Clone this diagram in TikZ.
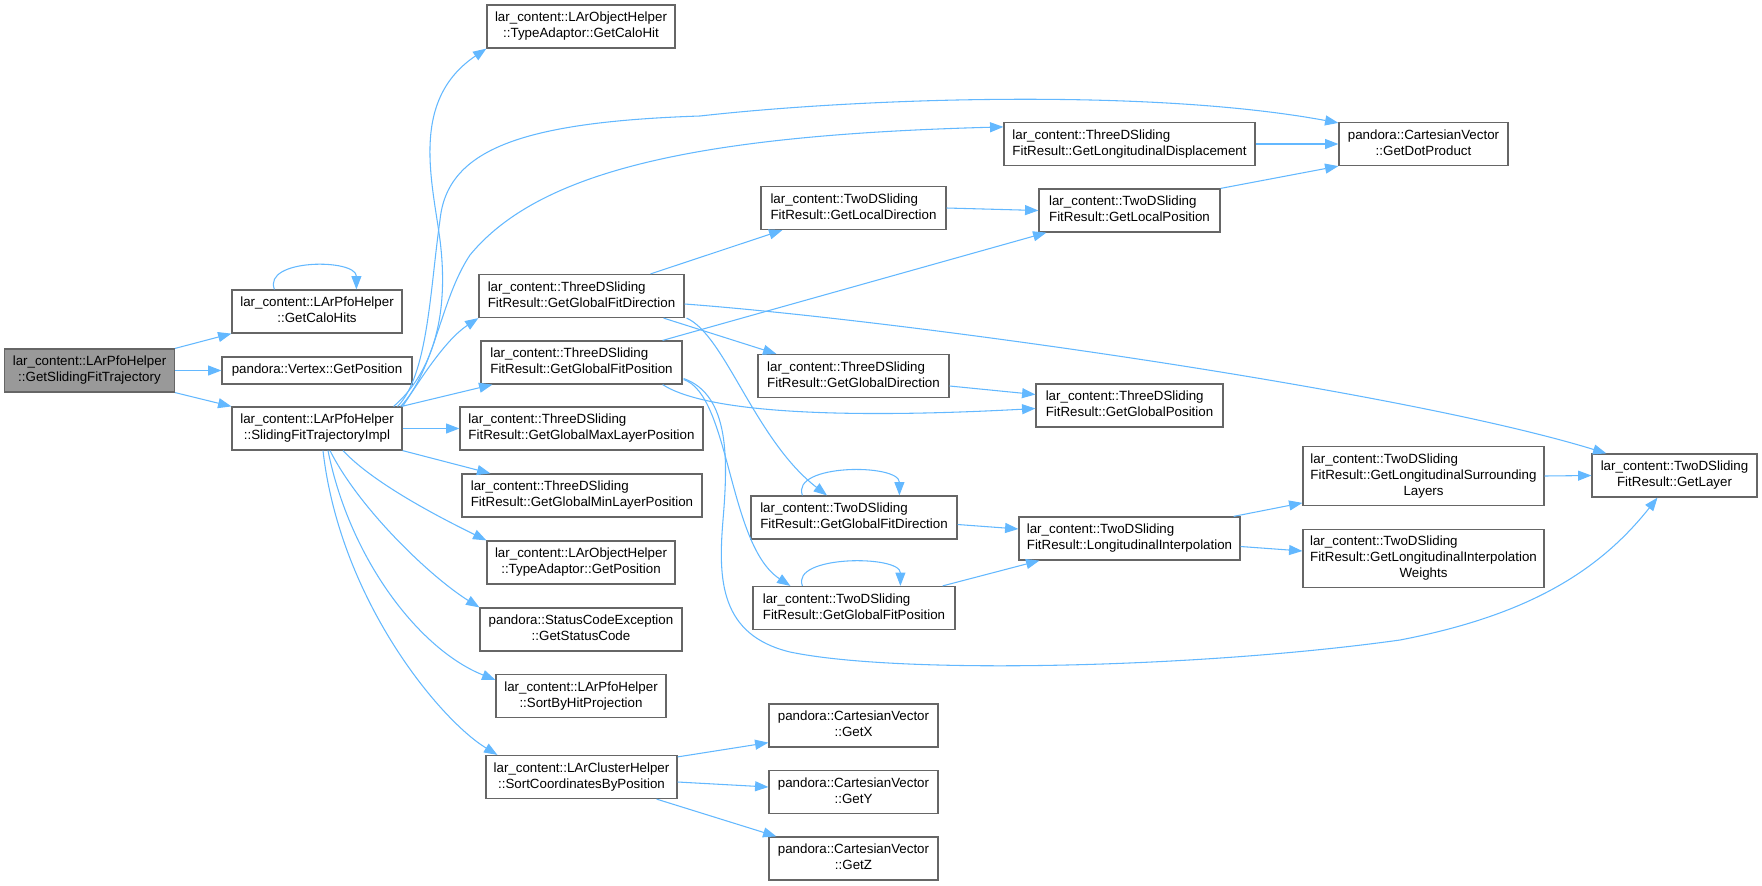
\documentclass[tikz,border=0pt]{standalone}
\usepackage{fontspec}
\setmainfont{Liberation Sans}
\usetikzlibrary{arrows.meta,calc}
\definecolor{edgeblue}{HTML}{63B8FF}
\definecolor{boxgray}{HTML}{666666}
\definecolor{rootgray}{HTML}{999999}
\newcommand\LC[2]{\begin{tabular}{@{}c@{}}\multicolumn{1}{@{}l@{}}{#1}\\#2\end{tabular}}
\newcommand\CC[2]{\begin{tabular}{@{}c@{}}#1\\#2\end{tabular}}
\newcommand\LLC[3]{\begin{tabular}{@{}c@{}}\multicolumn{1}{@{}l@{}}{#1}\\\multicolumn{1}{@{}l@{}}{#2}\\#3\end{tabular}}
\tikzset{
  fnbox/.style={draw=boxgray, line width=0.9pt, fill=white, rectangle, inner sep=0pt,
    minimum width=#1*0.75pt, minimum height=32.25pt, font=\fontsize{10}{12}\selectfont},
  onel/.style={minimum height=20.25pt},
  threel/.style={minimum height=43.9pt},
  call/.style={draw=edgeblue, line width=0.8pt, -{Triangle[length=10pt,width=7.5pt]}},
}
\begin{document}
\begin{tikzpicture}[x=0.75pt,y=-0.75pt]
\useasboundingbox (0,0) rectangle (1762,885);
% column 1
\node[fnbox=170, fill=rootgray] (root) at (89.5,370.5) {\CC{lar\_content::LArPfoHelper}{::GetSlidingFitTrajectory}};
% column 2
\node[fnbox=170] (calohits) at (317,311.5) {\CC{lar\_content::LArPfoHelper}{::GetCaloHits}};
\node[fnbox=190, onel] (vertex) at (317,370.5) {pandora::Vertex::GetPosition};
\node[fnbox=170] (impl) at (317,428.5) {\CC{lar\_content::LArPfoHelper}{::SlidingFitTrajectoryImpl}};
% column 3
\node[fnbox=188] (tacalohit) at (581,26.5) {\CC{lar\_content::LArObjectHelper}{::TypeAdaptor::GetCaloHit}};
\node[fnbox=205] (gfitdir3) at (581.5,296) {\LC{lar\_content::ThreeDSliding}{FitResult::GetGlobalFitDirection}};
\node[fnbox=201] (gfitpos3) at (581.5,362.5) {\LC{lar\_content::ThreeDSliding}{FitResult::GetGlobalFitPosition}};
\node[fnbox=243] (maxlayer) at (581.5,428.5) {\LC{lar\_content::ThreeDSliding}{FitResult::GetGlobalMaxLayerPosition}};
\node[fnbox=240] (minlayer) at (582,495.5) {\LC{lar\_content::ThreeDSliding}{FitResult::GetGlobalMinLayerPosition}};
\node[fnbox=188] (taposition) at (581,562.5) {\CC{lar\_content::LArObjectHelper}{::TypeAdaptor::GetPosition}};
\node[fnbox=202] (status) at (581,629.5) {\CC{pandora::StatusCodeException}{::GetStatusCode}};
\node[fnbox=170] (sortbyhit) at (581,696) {\CC{lar\_content::LArPfoHelper}{::SortByHitProjection}};
\node[fnbox=191] (sortcoord) at (581.5,777) {\CC{lar\_content::LArClusterHelper}{::SortCoordinatesByPosition}};
% column 4
\node[fnbox=185] (localdir) at (853.5,208) {\LC{lar\_content::TwoDSliding}{FitResult::GetLocalDirection}};
\node[fnbox=191] (gdir3) at (853.5,376) {\LC{lar\_content::ThreeDSliding}{FitResult::GetGlobalDirection}};
\node[fnbox=206] (gfitdir2) at (854,517.5) {\LC{lar\_content::TwoDSliding}{FitResult::GetGlobalFitDirection}};
\node[fnbox=202] (gfitpos2) at (854,608) {\LC{lar\_content::TwoDSliding}{FitResult::GetGlobalFitPosition}};
\node[fnbox=169] (getx) at (853.5,725.5) {\CC{pandora::CartesianVector}{::GetX}};
\node[fnbox=169] (gety) at (853.5,792) {\CC{pandora::CartesianVector}{::GetY}};
\node[fnbox=169] (getz) at (853.5,858.5) {\CC{pandora::CartesianVector}{::GetZ}};
% column 5
\node[fnbox=251] (longdisp) at (1129.5,144) {\LC{lar\_content::ThreeDSliding}{FitResult::GetLongitudinalDisplacement}};
\node[fnbox=181] (localpos) at (1129.5,210.5) {\LC{lar\_content::TwoDSliding}{FitResult::GetLocalPosition}};
\node[fnbox=187] (gpos3) at (1129.5,405.5) {\LC{lar\_content::ThreeDSliding}{FitResult::GetGlobalPosition}};
\node[fnbox=221] (longinterp) at (1129.5,538.5) {\LC{lar\_content::TwoDSliding}{FitResult::LongitudinalInterpolation}};
% column 6
\node[fnbox=169] (dotprod) at (1423.5,144) {\CC{pandora::CartesianVector}{::GetDotProduct}};
\node[fnbox=241, threel] (surround) at (1423.5,476) {\LLC{lar\_content::TwoDSliding}{FitResult::GetLongitudinalSurrounding}{Layers}};
\node[fnbox=241, threel] (weights) at (1423.5,558.5) {\LLC{lar\_content::TwoDSliding}{FitResult::GetLongitudinalInterpolation}{Weights}};
% column 7
\node[fnbox=165] (getlayer) at (1674.5,475.5) {\LC{lar\_content::TwoDSliding}{FitResult::GetLayer}};

% edges from root
\draw[call] (root.north east) -- (calohits.south west);
\draw[call] (root.east) -- (vertex.west);
\draw[call] (root.south east) -- (impl.north west);
% self loop
\draw[call] ($(calohits.north west)+(43,0)$) .. controls ($(calohits.north west)+(31,-31)$) and ($(calohits.north west)+(125,-31)$) .. ($(calohits.north west)+(125,0)$);
% edges from impl (top)
\draw[call] ($(impl.north east)+(-9,0)$) .. controls (430,375) and (450,320) .. (440,240)
  .. controls (432,180) and (410,100) .. (tacalohit.south west);
\draw[call] ($(impl.north east)+(-5,0)$) .. controls (428,375) and (430,290) .. (440,220)
  .. controls (447,150) and (520,122) .. (700,116)
  .. controls (860,98) and (1150,88) .. ($(dotprod.north west)+(0,1)$);
\draw[call] ($(impl.north east)+(-2,0)$) .. controls (435,370) and (440,300) .. (470,255)
  .. controls (540,170) and (700,135) .. ($(longdisp.north west)+(0,5)$);
\draw[call] ($(impl.north east)+(0,0)$) .. controls (420,380) and (445,340) .. (gfitdir3.south west);
\draw[call] ($(impl.north east)+(-1,0)$) -- ($(gfitpos3.south west)+(12,0)$);
\draw[call] (impl.east) -- (maxlayer.west);
\draw[call] (impl.south east) -- ($(minlayer.north west)+(29,0)$);
% edges from impl (bottom)
\draw[call] ($(impl.south)+(26,0)$) .. controls (375,485) and (447,521) .. (taposition.north west);
\draw[call] ($(impl.south)+(13,0)$) .. controls (360,510) and (432,578) .. (status.north west);
\draw[call] ($(impl.south)+(11,0)$) .. controls (350,560) and (420,650) .. ($(sortbyhit.north west)+(0,6)$);
\draw[call] ($(impl.south)+(6,0)$) .. controls (340,600) and (440,720) .. ($(sortcoord.north west)+(12,0)$);
% edges from ThreeD GetGlobalFitDirection
\draw[call] ($(gfitdir3.north)+(69,0)$) -- ($(localdir.south west)+(22,0)$);
\draw[call] ($(gfitdir3.east)+(0,8)$) .. controls (900,320) and (1400,390) .. ($(getlayer.north west)+(15,0)$);
\draw[call] ($(gfitdir3.south east)+(-21,0)$) -- ($(gdir3.north west)+(19,0)$);
\draw[call] ($(gfitdir3.south east)+(2,0)$) .. controls (725,335) and (755,440) .. ($(gfitdir2.north)+(-27,0)$);
% edges from ThreeD GetGlobalFitPosition
\draw[call] ($(gfitpos3.north east)+(-20,0)$) -- ($(localpos.south west)+(8,0)$);
\draw[call] ($(gfitpos3.south east)+(-20,0)$) .. controls (710,415) and (860,418) .. ($(gpos3.west)+(0,3)$);
\draw[call] ($(gfitpos3.east)+(1,17)$) .. controls (730,395) and (728,545) .. ($(gfitpos2.north west)+(38,0)$);
\draw[call] ($(gfitpos3.east)+(1,16)$) .. controls (730,395) and (728,460) .. (723,520)
  .. controls (718,580) and (720,635) .. (790,652)
  .. controls (900,675) and (1200,668) .. (1400,640)
  .. controls (1530,615) and (1600,570) .. ($(getlayer.south)+(-17,0)$);
% other edges
\draw[call] (localdir.east) -- (localpos.west);
\draw[call] (localpos.north east) -- (dotprod.south west);
\draw[call] (longdisp.east) -- (dotprod.west);
\draw[call] ($(gdir3.east)+(0,10)$) -- ($(gpos3.west)+(0,-11)$);
\draw[call] ($(gfitdir2.north west)+(52,0)$) .. controls ($(gfitdir2.north west)+(40,-32)$) and ($(gfitdir2.north west)+(149,-32)$) .. ($(gfitdir2.north west)+(149,0)$);
\draw[call] ($(gfitpos2.north west)+(50,0)$) .. controls ($(gfitpos2.north west)+(38,-31)$) and ($(gfitpos2.north west)+(148,-31)$) .. ($(gfitpos2.north west)+(148,0)$);
\draw[call] ($(gfitdir2.east)+(0,7)$) -- ($(longinterp.west)+(0,-9.5)$);
\draw[call] ($(gfitpos2.north east)+(-13,0)$) -- ($(longinterp.south west)+(21,0)$);
\draw[call] ($(longinterp.north east)+(-7,0)$) -- ($(surround.south west)+(0,-3)$);
\draw[call] ($(longinterp.east)+(0,8)$) -- ($(weights.west)+(0,-7.5)$);
\draw[call] (surround.east) -- (getlayer.west);
\draw[call] ($(sortcoord.north east)+(0,2)$) -- ($(getx.south west)+(0,-5)$);
\draw[call] ($(sortcoord.east)+(0,5)$) -- ($(gety.west)+(0,-5)$);
\draw[call] ($(sortcoord.south east)+(-21,0)$) -- ($(getz.north west)+(8,0)$);
\end{tikzpicture}
\end{document}
